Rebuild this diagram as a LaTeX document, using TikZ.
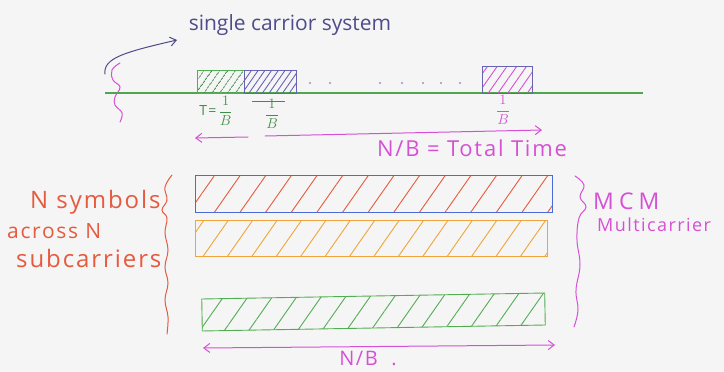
\documentclass[tikz,border=0pt]{standalone}
\usepackage{fontspec}
\setmainfont{Open Sans}
\newfontfamily\handfont[LetterSpace=8]{Open Sans}
\newfontfamily\widefont[LetterSpace=22]{Open Sans}
\usetikzlibrary{arrows.meta,patterns.meta}
\definecolor{cbg}{HTML}{F5F5F5}
\definecolor{cink}{HTML}{4E4C8A}
\definecolor{cgreen}{HTML}{52AE52}
\definecolor{caxis}{HTML}{4FA64F}
\definecolor{cdgreen}{HTML}{3F8E48}
\definecolor{cblue}{HTML}{4C6BD6}
\definecolor{cpurple}{HTML}{6862B2}
\definecolor{cmag}{HTML}{D650D6}
\definecolor{cred}{HTML}{E65A3E}
\definecolor{corange}{HTML}{F0A53A}
\begin{document}
\begin{tikzpicture}[x=1pt,y=-1pt,
  symbox/.style={inner sep=0pt, line width=0.9pt},
  hatch/.style={pattern={Lines[angle=55,distance=#1,line width=0.9pt]}},
  hand/.style={font=\handfont\fontsize{#1}{#1}\selectfont, inner sep=0pt},
  plain/.style={font=\rmfamily\fontsize{#1}{#1}\selectfont, inner sep=0pt},
  wide/.style={font=\widefont\fontsize{#1}{#1}\selectfont, inner sep=0pt},
  brace/.style={line width=1pt, line cap=round},
  tipped/.style={line width=1pt, line cap=round, -{Straight Barb[length=6pt,width=9pt]}},
  dot/.style={circle, fill=cpurple!70, inner sep=0pt, minimum size=2.2pt}
]
\fill[cbg] (0,0) rectangle (724,372);
\useasboundingbox (0,0) rectangle (724,372);

% ---------- single carrier system ----------
\node[plain=21, text=cink] (title) at (290,25) {single carrior system};
\coordinate (cs) at (105,74);
\coordinate (ce) at (177,40);
\draw[draw=cink, tipped] (cs) .. controls (103,58) and (125,52) .. (ce);
\draw[draw=cmag, brace] plot[smooth, tension=0.7] coordinates {(120,63) (112,70) (113,80) (120,87) (115,97) (115,105) (122,113) (120,122)};

\coordinate (axL) at (105,93);
\coordinate (axR) at (643,93);
\draw[draw=caxis, line width=1.1pt] (axL) -- (axR);

\begin{scope}
\node[symbox, draw=cgreen, hatch=6.5pt, pattern color=cdgreen, minimum width=47pt, minimum height=23pt] (g1) at (220.5,81.5) {};
\end{scope}
\begin{scope}
\node[symbox, draw=cpurple, hatch=5.5pt, pattern color=cpurple, minimum width=52pt, minimum height=23pt] (b1) at (270,81.5) {};
\end{scope}
\begin{scope}
\node[symbox, draw=cpurple, hatch=8pt, pattern color=cmag, minimum width=50pt, minimum height=27pt] (p1) at (507,79.5) {};
\end{scope}
\foreach \xx/\nm in {310/d1,330/d2,380/d3,402/d4,423/d5,441/d6,460/d7}
  \node[dot] (\nm) at (\xx,83) {};

\node[hand=14, text=cdgreen] (tlab) at (216,111) {T=\,$\displaystyle\frac{1}{B}$};
\node[hand=14, text=cdgreen] (lab2) at (272,114) {$\displaystyle\frac{1}{B}$};
\coordinate (barL) at (252,101);
\coordinate (barR) at (285,101);
\draw[draw=cdgreen, line width=0.9pt] (barL) -- (barR);
\node[hand=14, text=cmag] (lab3) at (503,110) {$\displaystyle\frac{1}{B}$};

\coordinate (a1l) at (195,138);
\coordinate (a1m) at (248,137);
\coordinate (a1n) at (265,136);
\coordinate (a1r) at (542,130);
\draw[draw=cmag, tipped] (a1m) -- (a1l);
\draw[draw=cmag, tipped] (a1n) -- (a1r);
\node[hand=22, text=cmag] (tt) at (472,148) {N/B = Total Time};

% ---------- multicarrier ----------
\begin{scope}
\node[symbox, draw=cblue, hatch=21pt, pattern color=cred, minimum width=357pt, minimum height=37pt] (c1) at (373.5,193.5) {};
\end{scope}
\begin{scope}
\node[symbox, draw=corange, hatch=20pt, pattern color=corange, minimum width=352pt, minimum height=36pt] (c2) at (371,238) {};
\end{scope}
\begin{scope}
\node[symbox, draw=cgreen, hatch=20pt, pattern color=cgreen, minimum width=343pt, minimum height=32pt, rotate=1] (c3) at (373.5,312) {};
\end{scope}

\coordinate (a2l) at (203,348);
\coordinate (a2r) at (555,345);
\draw[draw=cmag, tipped, {Straight Barb[length=6pt,width=9pt]}-{Straight Barb[length=6pt,width=9pt]}] (a2l) -- (a2r);
\node[hand=20, text=cmag] (nb) at (368,359) {N/B\ \ .};

\draw[draw=cred, brace] plot[smooth, tension=0.7] coordinates {(172,175) (165,187) (167,200) (162,210) (167,218) (165,233) (168,250) (165,267) (168,283) (165,300) (168,317) (167,334)};
\node[hand=24, text=cred, anchor=west] (r1) at (30,202) {N symbols};
\node[hand=21, text=cred, anchor=west] (r2) at (7,231) {across N};
\node[hand=24, text=cred, anchor=west] (r3) at (16,258) {subcarriers};

\draw[draw=cmag, brace] plot[smooth, tension=0.7] coordinates {(575,176) (584,185) (580,197) (586,207) (579,218) (577,240) (580,265) (576,290) (578,310) (574,327)};
\node[wide=23, text=cmag, anchor=west] (m1) at (593,201) {MCM};
\node[hand=18, text=cmag, anchor=west] (m2) at (597,225) {Multicarrier};
\end{tikzpicture}
\end{document}
